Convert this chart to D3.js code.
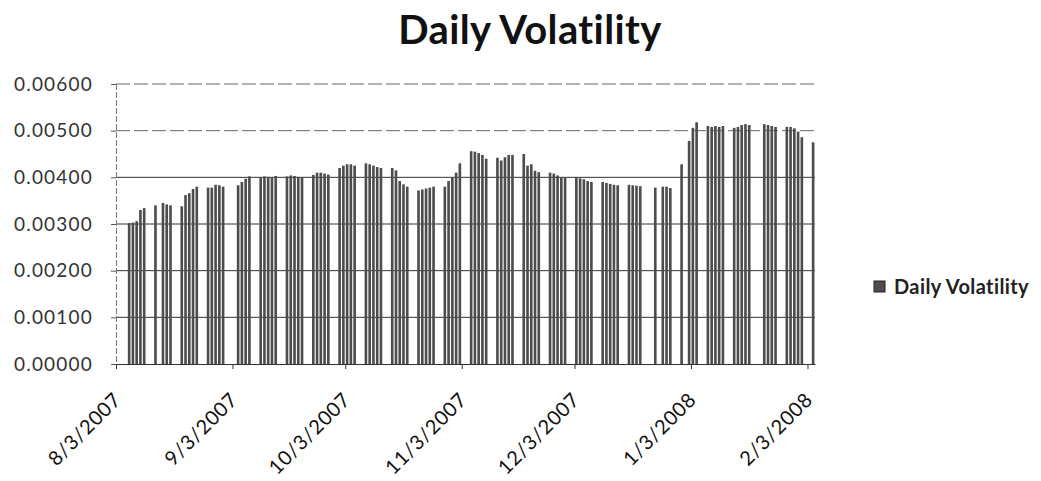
<!DOCTYPE html>
<html>
<head>
<meta charset="utf-8">
<script src="https://cdn.jsdelivr.net/npm/d3@7"></script>
<style>
  body { margin: 0; background: #fff; }
  .chart text { font-family: Lato, "Open Sans", sans-serif; }
</style>
</head>
<body>
<div class="chart" id="chart"></div>
<script>
// Monday of each trading week
const weekStarts = [
  "2007-08-06", "2007-08-13", "2007-08-20", "2007-08-27", "2007-09-03",
  "2007-09-10", "2007-09-17", "2007-09-24", "2007-10-01", "2007-10-08",
  "2007-10-15", "2007-10-22", "2007-10-29", "2007-11-05", "2007-11-12",
  "2007-11-19", "2007-11-26", "2007-12-03", "2007-12-10", "2007-12-17",
  "2007-12-24", "2007-12-31", "2008-01-07", "2008-01-14", "2008-01-21",
  "2008-01-28", "2008-02-04"
];

// Mon..Fri values for each week, null = no bar that day
const dailyVolatility = [
  [0.00302, 0.00303, 0.00306, 0.00330, 0.00334],
  [0.00340, null, 0.00345, 0.00342, 0.00340],
  [0.00338, 0.00362, 0.00366, 0.00375, 0.00380],
  [0.00378, 0.00378, 0.00384, 0.00383, 0.00380],
  [null, 0.00383, 0.00390, 0.00397, 0.00402],
  [0.00400, 0.00402, 0.00401, 0.00400, 0.00403],
  [0.00402, 0.00404, 0.00403, 0.00401, 0.00400],
  [0.00405, 0.00410, 0.00410, 0.00408, 0.00406],
  [0.00420, 0.00425, 0.00428, 0.00428, 0.00425],
  [0.00430, 0.00428, 0.00425, 0.00422, 0.00420],
  [0.00420, 0.00415, 0.00392, 0.00385, 0.00380],
  [0.00372, 0.00374, 0.00376, 0.00378, 0.00380],
  [0.00380, 0.00392, 0.00400, 0.00410, 0.00430],
  [0.00456, 0.00455, 0.00452, 0.00448, 0.00440],
  [0.00442, 0.00436, 0.00443, 0.00448, 0.00448],
  [0.00450, 0.00425, 0.00428, 0.00414, 0.00411],
  [0.00410, 0.00408, 0.00404, 0.00400, 0.00400],
  [0.00400, 0.00398, 0.00396, 0.00392, 0.00390],
  [0.00390, 0.00388, 0.00386, 0.00384, 0.00383],
  [0.00384, 0.00383, 0.00382, 0.00381, null],
  [0.00378, null, 0.00380, 0.00380, 0.00377],
  [0.00428, null, 0.00478, 0.00506, 0.00518],
  [0.00510, 0.00508, 0.00510, 0.00508, 0.00510],
  [0.00506, 0.00508, 0.00512, 0.00514, 0.00512],
  [null, 0.00514, 0.00512, 0.00510, 0.00508],
  [0.00508, 0.00508, 0.00505, 0.00498, 0.00486],
  [0.00475]
];

const xTickLabels = ["8/3/2007", "9/3/2007", "10/3/2007", "11/3/2007", "12/3/2007", "1/3/2008", "2/3/2008"];
const yTicks = [0, 0.001, 0.002, 0.003, 0.004, 0.005, 0.006];
const axisStart = "8/3/2007";
const axisEnd = "2/5/2008";
const seriesName = "Daily Volatility";

const width = 1041;
const height = 481;
const margin = { top: 84, right: 226, bottom: 117, left: 116 };
const plotW = width - margin.left - margin.right;
const plotH = height - margin.top - margin.bottom;

const parseIso = d3.timeParse("%Y-%m-%d");
const parseUs = d3.timeParse("%-m/%-d/%Y");

const data = [];
weekStarts.forEach((w, i) => {
  dailyVolatility[i].forEach((v, k) => {
    if (v === null) return;
    data.push({ date: d3.timeDay.offset(parseIso(w), k), value: v });
  });
});

const x = d3.scaleTime()
  .domain([parseUs(axisStart), parseUs(axisEnd)])
  .range([0, plotW]);
const y = d3.scaleLinear().domain([0, 0.006]).range([plotH, 0]);

const dayW = x(d3.timeDay.offset(parseUs(axisStart), 1)) - x(parseUs(axisStart));
const barW = dayW * 0.7;

const svg = d3.select("#chart")
  .append("svg")
  .attr("width", width)
  .attr("height", height)
  .style("background", "#fff");

svg.append("text")
  .attr("x", 530)
  .attr("y", 44)
  .attr("text-anchor", "middle")
  .style("font-size", "40px")
  .style("font-weight", "bold")
  .style("letter-spacing", "0.4px")
  .attr("fill", "#111")
  .text(seriesName);

const g = svg.append("g")
  .attr("transform", "translate(" + margin.left + "," + margin.top + ")");

// gridlines
g.selectAll(".grid")
  .data(yTicks.filter(d => d > 0))
  .enter()
  .append("line")
  .attr("class", "grid")
  .attr("x1", 0)
  .attr("x2", plotW)
  .attr("y1", d => y(d))
  .attr("y2", d => y(d))
  .attr("stroke", d => d >= 0.005 ? "#666" : "#333")
  .attr("stroke-width", 1)
  .attr("stroke-dasharray", d => d >= 0.005 ? "14,4" : null);

// bars
g.selectAll(".bar")
  .data(data)
  .enter()
  .append("rect")
  .attr("class", "bar")
  .attr("x", d => x(d.date) + dayW / 2 - barW / 2)
  .attr("width", barW)
  .attr("y", d => y(d.value))
  .attr("height", d => plotH - y(d.value))
  .attr("fill", "#4d4d4d");

// y axis
const yAxis = g.append("g")
  .call(d3.axisLeft(y).tickValues(yTicks).tickFormat(d3.format(".5f")).tickSize(5));
yAxis.select(".domain").attr("stroke", "#777").attr("stroke-dasharray", "6,2");
yAxis.selectAll(".tick line").attr("stroke", "#555");
yAxis.selectAll("text")
  .attr("x", -23)
  .attr("fill", "#333")
  .style("font-size", "19px")
  .style("letter-spacing", "1.2px");

// x axis
const xAxis = g.append("g")
  .attr("transform", "translate(0," + plotH + ")")
  .call(d3.axisBottom(x)
    .tickValues(xTickLabels.map(parseUs))
    .tickFormat(d3.timeFormat("%-m/%-d/%Y"))
    .tickSize(5)
    .tickSizeOuter(0));
xAxis.select(".domain").attr("stroke", "#333");
xAxis.selectAll(".tick line").attr("stroke", "#333");
xAxis.selectAll("text")
  .attr("text-anchor", "end")
  .attr("x", 0)
  .attr("y", 0)
  .attr("dy", 0)
  .attr("transform", "translate(6,37) rotate(-45)")
  .attr("fill", "#111")
  .style("font-size", "20px")
  .style("letter-spacing", "0.7px");

// legend
const legend = svg.append("g").attr("transform", "translate(874,281)");
legend.append("rect")
  .attr("width", 11)
  .attr("height", 11)
  .attr("fill", "#4d4d4d")
  .attr("stroke", "#222");
legend.append("text")
  .attr("x", 20)
  .attr("y", 6)
  .attr("dy", "0.35em")
  .style("font-size", "20px")
  .style("font-weight", "bold")
  .style("letter-spacing", "0.4px")
  .attr("fill", "#222")
  .text(seriesName);
</script>
</body>
</html>
